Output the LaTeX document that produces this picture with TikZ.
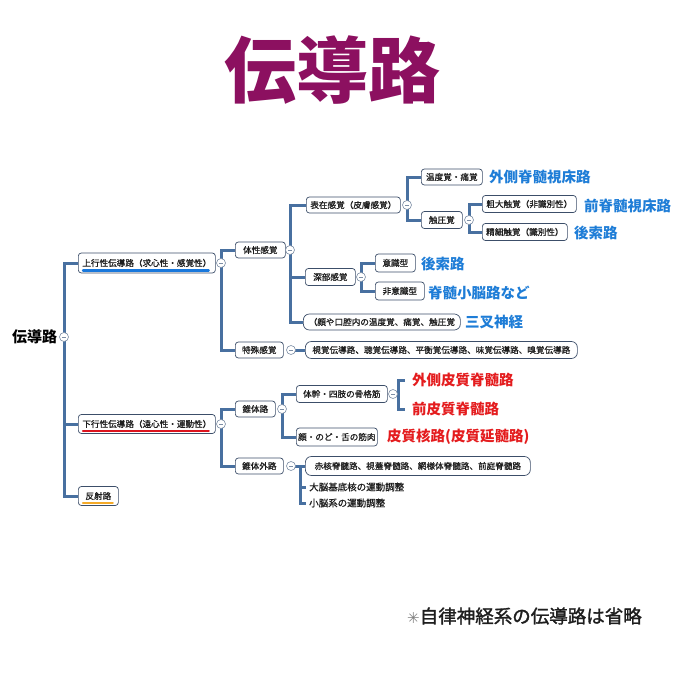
\documentclass[tikz,border=0pt]{standalone}
\usepackage{fontspec}
\newfontfamily\jp{Noto Sans CJK JP}
\newfontfamily\jpm[FakeBold=0.9]{Noto Sans CJK JP}
\newfontfamily\jpn[FakeBold=1.6]{Noto Sans CJK JP}
\newfontfamily\symf{DejaVu Sans}
\usetikzlibrary{backgrounds}
\definecolor{titlec}{RGB}{140,16,96}
\definecolor{linec}{RGB}{72,112,160}
\definecolor{boxc}{RGB}{60,78,105}
\definecolor{colc}{RGB}{125,142,165}
\definecolor{bluec}{RGB}{30,125,215}
\definecolor{redc}{RGB}{228,28,30}
\definecolor{ulb}{RGB}{25,120,220}
\definecolor{ulr}{RGB}{220,20,30}
\definecolor{ulo}{RGB}{245,170,40}
\definecolor{txtc}{RGB}{30,30,30}
\begin{document}
\begin{tikzpicture}[x=1pt,y=-1pt,
 box/.style={draw=boxc, line width=0.7pt, rounded corners=3pt, fill=white, text=txtc,
   font=\jpm\fontsize{8.6}{10}\selectfont, inner sep=0pt, minimum height=17pt, anchor=west},
 wbox/.style={box, rounded corners=6pt},
 col/.style={circle, draw=colc, line width=0.6pt, fill=white, minimum size=9pt, inner sep=0pt,
   path picture={\draw[colc, line width=0.6pt] ([xshift=-2.2pt]path picture bounding box.center) -- ([xshift=2.2pt]path picture bounding box.center);}},
 conn/.style={draw=linec, line width=3pt},
 bl/.style={font=\jp\bfseries\fontsize{14.5}{16}\selectfont, text=bluec, anchor=west, inner sep=0pt},
 rl/.style={bl, text=redc},
 plain/.style={font=\jpm\fontsize{9.5}{11}\selectfont, text=txtc, anchor=west, inner sep=0pt},
 ul/.style={line width=2.4pt, line cap=round},
]
\useasboundingbox (0,0) rectangle (680,680);

% title
\node[font=\jp\bfseries\fontsize{72}{80}\selectfont, text=titlec, inner sep=0pt] (title) at (332,70) {伝導路};

% root
\node[font=\jp\bfseries\fontsize{15}{16}\selectfont, anchor=west, inner sep=0pt] (root) at (12,337) {伝導路};
\node[col] (c0) at (64,337) {};

% level 1
\node[box, minimum width=137pt, minimum height=20pt] (up) at (78,263) {上行性伝導路（求心性・感覚性）};
\node[col] (c1) at (221,263) {};
\node[box, minimum width=137pt, minimum height=19pt] (down) at (78,424) {下行性伝導路（遠心性・運動性）};
\node[col] (c7) at (221,424) {};
\node[box, minimum width=40pt, minimum height=19pt] (refl) at (78,496) {反射路};

\draw[ul, ulb] ([xshift=5pt,yshift=3pt]up.south west) -- ([xshift=-7pt,yshift=3pt]up.south east);
\draw[ul, ulr] ([xshift=5pt,yshift=3pt]down.south west) -- ([xshift=-7pt,yshift=3pt]down.south east);
\draw[ul, ulo] ([xshift=5pt,yshift=3pt]refl.south west) -- ([xshift=-6pt,yshift=3pt]refl.south east);

% ascending
\node[box, minimum width=50pt, minimum height=16pt] (tai) at (235,250) {体性感覚};
\node[col] (c2) at (290,250) {};
\node[box, minimum width=48pt, minimum height=16pt] (toku) at (235,350) {特殊感覚};
\node[col] (c6) at (291,350) {};
\node[wbox, minimum width=272pt, minimum height=17pt] (shikaku) at (305,350) {視覚伝導路、聴覚伝導路、平衡覚伝導路、味覚伝導路、嗅覚伝導路};

\node[box, minimum width=94pt, minimum height=16pt] (hyo) at (306,205) {表在感覚（皮膚感覚）};
\node[col] (c3) at (407,205) {};
\node[box, minimum width=61pt, minimum height=16pt] (ondo) at (421,177) {温度覚・痛覚};
\node[bl] (l1) at (489,177) {外側脊髄視床路};
\node[box, minimum width=41pt, minimum height=17pt] (shoku) at (421,220) {触圧覚};
\node[col] (c4) at (469,220) {};
\node[box, minimum width=94pt, minimum height=17pt] (sodai) at (482,204) {粗大触覚（非識別性）};
\node[bl] (l2) at (584,206) {前脊髄視床路};
\node[box, minimum width=85pt, minimum height=17pt] (seisai) at (482,232) {精細触覚（識別性）};
\node[bl] (l3) at (574,233) {後索路};

\node[box, minimum width=50pt, minimum height=17pt] (shinbu) at (305,277) {深部感覚};
\node[col] (c5) at (361,277) {};
\node[box, minimum width=40pt, minimum height=18pt] (ishiki) at (375,263) {意識型};
\node[bl] (l4) at (421,264) {後索路};
\node[box, minimum width=49pt, minimum height=18pt] (hiishiki) at (375,291) {非意識型};
\node[bl] (l5) at (428,293) {脊髄小脳路など};
\node[wbox, minimum width=157pt, minimum height=16pt] (kao) at (303,322) {（顔や口腔内の温度覚、痛覚、触圧覚};
\node[bl] (l6) at (465,322) {三叉神経};

% descending
\node[box, minimum width=40pt, minimum height=16pt] (sui) at (235,409) {錐体路};
\node[col] (c8) at (282,409) {};
\node[box, minimum width=91pt, minimum height=17pt] (kokkaku) at (296,394) {体幹・四肢の骨格筋};
\node[col] (c9) at (393,394) {};
\coordinate (j9) at (398,394);
\coordinate (e1) at (405,380);
\coordinate (e2) at (405,409);
\node[rl] (r1) at (412,380) {外側皮質脊髄路};
\node[rl] (r2) at (412,409) {前皮質脊髄路};
\node[box, minimum width=81pt, minimum height=18pt] (kinniku) at (296,437) {顔・のど・舌の筋肉};
\node[rl] (r3) at (387,437) {皮質核路(皮質延髄路)};

\node[box, minimum width=48pt, minimum height=16pt] (gaiso) at (235,466) {錐体外路};
\node[col] (c10) at (291,466) {};
\coordinate (j10) at (300,466);
\node[wbox, minimum width=225pt, minimum height=19pt] (sekikaku) at (305,466) {赤核脊髄路、視蓋脊髄路、網様体脊髄路、前庭脊髄路};
\node[plain] (daino) at (309,487) {大脳基底核の運動調整};
\node[plain] (shono) at (309,503) {小脳系の運動調整};

% footnote
\node[anchor=west, inner sep=0pt, font=\jpn\fontsize{18.5}{20}\selectfont, text=txtc] (note) at (407,616) {{\symf\fontsize{15}{16}\selectfont\color{gray}✳}自律神経系の伝導路は省略};

% connectors
\begin{scope}[on background layer]
\fill[white] (0,0) rectangle (680,680);
\draw[conn] (c0.center) |- (up.west);
\draw[conn] (c0.center) |- (down.west);
\draw[conn] (c0.center) |- (refl.west);
\draw[conn] (c1.center) |- (tai.west);
\draw[conn] (c1.center) |- (toku.west);
\draw[conn] (c2.center) |- (hyo.west);
\draw[conn] (c2.center) |- (shinbu.west);
\draw[conn] (c2.center) |- (kao.west);
\draw[conn] (c3.center) |- (ondo.west);
\draw[conn] (c3.center) |- (shoku.west);
\draw[conn] (c4.center) |- (sodai.west);
\draw[conn] (c4.center) |- (seisai.west);
\draw[conn] (c5.center) |- (ishiki.west);
\draw[conn] (c5.center) |- (hiishiki.west);
\draw[conn] (c6.center) -- (shikaku.west);
\draw[conn] (c7.center) |- (sui.west);
\draw[conn] (c7.center) |- (gaiso.west);
\draw[conn] (c8.center) |- (kokkaku.west);
\draw[conn] (c8.center) |- (kinniku.west);
\draw[conn] (c9.center) -- (j9);
\draw[conn] (j9) |- (e1);
\draw[conn] (j9) |- (e2);
\draw[conn] (c10.center) -- (sekikaku.west);
\draw[conn] (j10) |- ([xshift=-3pt]daino.west);
\draw[conn] (j10) |- ([xshift=-3pt]shono.west);
\end{scope}
\end{tikzpicture}
\end{document}
